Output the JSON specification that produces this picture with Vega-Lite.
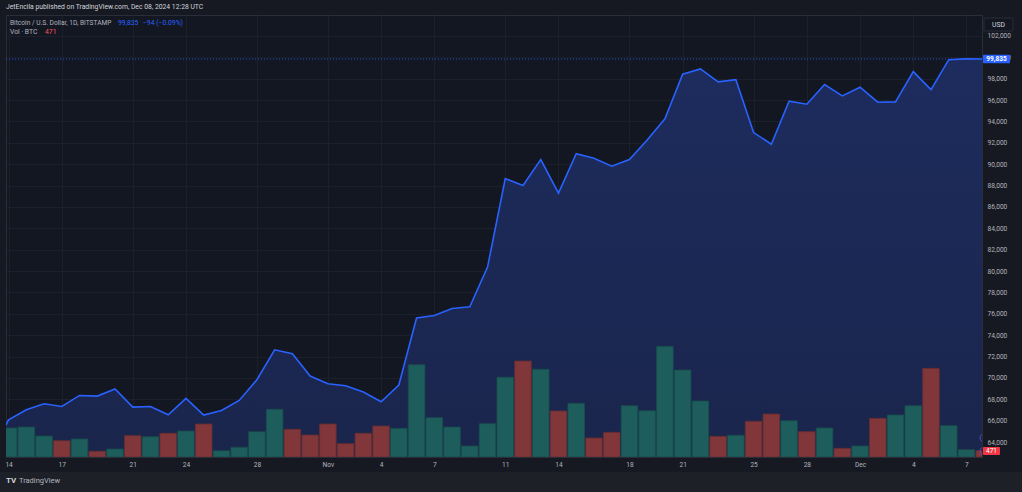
{
  "$schema": "https://vega.github.io/schema/vega-lite/v6.json",
  "autosize": "none",
  "width": 976,
  "height": 442,
  "padding": {"left": 6, "top": 15, "right": 40, "bottom": 35},
  "background": "#161921",
  "title": {
    "text": "JetEncila published on TradingView.com, Dec 08, 2024 12:28 UTC",
    "anchor": "start",
    "frame": "group",
    "font": "Roboto",
    "fontSize": 6.8,
    "fontWeight": "normal",
    "color": "#d1d4dc",
    "offset": 4
  },
  "config": {
    "font": "Roboto",
    "view": {"fill": "#131722", "stroke": "#2a2e39"},
    "axis": {
      "labelFont": "Roboto",
      "labelFontSize": 6.6,
      "labelColor": "#b2b5be",
      "domainColor": "#2a2e39",
      "gridColor": "#1c202c",
      "ticks": false
    },
    "text": {"font": "Roboto"}
  },
  "datasets": {
    "btc": [
      {"date": "2024-10-13", "close": 62850, "volume": null, "dir": null},
      {"date": "2024-10-14", "close": 66080, "volume": 2175, "dir": "up"},
      {"date": "2024-10-15", "close": 67020, "volume": 2250, "dir": "up"},
      {"date": "2024-10-16", "close": 67580, "volume": 1575, "dir": "up"},
      {"date": "2024-10-17", "close": 67330, "volume": 1220, "dir": "down"},
      {"date": "2024-10-18", "close": 68360, "volume": 1350, "dir": "up"},
      {"date": "2024-10-19", "close": 68300, "volume": 430, "dir": "down"},
      {"date": "2024-10-20", "close": 68960, "volume": 600, "dir": "up"},
      {"date": "2024-10-21", "close": 67270, "volume": 1600, "dir": "down"},
      {"date": "2024-10-22", "close": 67330, "volume": 1520, "dir": "up"},
      {"date": "2024-10-23", "close": 66550, "volume": 1780, "dir": "down"},
      {"date": "2024-10-24", "close": 68080, "volume": 1950, "dir": "up"},
      {"date": "2024-10-25", "close": 66520, "volume": 2475, "dir": "down"},
      {"date": "2024-10-26", "close": 66950, "volume": 470, "dir": "up"},
      {"date": "2024-10-27", "close": 67890, "volume": 730, "dir": "up"},
      {"date": "2024-10-28", "close": 69830, "volume": 1900, "dir": "up"},
      {"date": "2024-10-29", "close": 72630, "volume": 3580, "dir": "up"},
      {"date": "2024-10-30", "close": 72260, "volume": 2080, "dir": "down"},
      {"date": "2024-10-31", "close": 70170, "volume": 1650, "dir": "down"},
      {"date": "2024-11-01", "close": 69450, "volume": 2475, "dir": "down"},
      {"date": "2024-11-02", "close": 69260, "volume": 1000, "dir": "down"},
      {"date": "2024-11-03", "close": 68680, "volume": 1780, "dir": "down"},
      {"date": "2024-11-04", "close": 67770, "volume": 2325, "dir": "down"},
      {"date": "2024-11-05", "close": 69330, "volume": 2150, "dir": "up"},
      {"date": "2024-11-06", "close": 75600, "volume": 6920, "dir": "up"},
      {"date": "2024-11-07", "close": 75840, "volume": 2950, "dir": "up"},
      {"date": "2024-11-08", "close": 76490, "volume": 2250, "dir": "up"},
      {"date": "2024-11-09", "close": 76650, "volume": 825, "dir": "up"},
      {"date": "2024-11-10", "close": 80370, "volume": 2500, "dir": "up"},
      {"date": "2024-11-11", "close": 88650, "volume": 5985, "dir": "up"},
      {"date": "2024-11-12", "close": 88000, "volume": 7200, "dir": "down"},
      {"date": "2024-11-13", "close": 90430, "volume": 6580, "dir": "up"},
      {"date": "2024-11-14", "close": 87290, "volume": 3450, "dir": "down"},
      {"date": "2024-11-15", "close": 90990, "volume": 4030, "dir": "up"},
      {"date": "2024-11-16", "close": 90560, "volume": 1425, "dir": "down"},
      {"date": "2024-11-17", "close": 89810, "volume": 1850, "dir": "down"},
      {"date": "2024-11-18", "close": 90430, "volume": 3850, "dir": "up"},
      {"date": "2024-11-19", "close": 92270, "volume": 3470, "dir": "up"},
      {"date": "2024-11-20", "close": 94240, "volume": 8300, "dir": "up"},
      {"date": "2024-11-21", "close": 98420, "volume": 6525, "dir": "up"},
      {"date": "2024-11-22", "close": 98910, "volume": 4200, "dir": "up"},
      {"date": "2024-11-23", "close": 97700, "volume": 1550, "dir": "down"},
      {"date": "2024-11-24", "close": 97910, "volume": 1630, "dir": "up"},
      {"date": "2024-11-25", "close": 92960, "volume": 2680, "dir": "down"},
      {"date": "2024-11-26", "close": 91870, "volume": 3225, "dir": "down"},
      {"date": "2024-11-27", "close": 95890, "volume": 2720, "dir": "up"},
      {"date": "2024-11-28", "close": 95610, "volume": 1900, "dir": "down"},
      {"date": "2024-11-29", "close": 97450, "volume": 2175, "dir": "up"},
      {"date": "2024-11-30", "close": 96390, "volume": 650, "dir": "down"},
      {"date": "2024-12-01", "close": 97200, "volume": 825, "dir": "up"},
      {"date": "2024-12-02", "close": 95800, "volume": 2900, "dir": "down"},
      {"date": "2024-12-03", "close": 95830, "volume": 3150, "dir": "up"},
      {"date": "2024-12-04", "close": 98660, "volume": 3850, "dir": "up"},
      {"date": "2024-12-05", "close": 96980, "volume": 6650, "dir": "down"},
      {"date": "2024-12-06", "close": 99780, "volume": 2350, "dir": "up"},
      {"date": "2024-12-07", "close": 99850, "volume": 550, "dir": "up"},
      {"date": "2024-12-08", "close": 99835, "volume": 471, "dir": "down"}
    ]
  },
  "resolve": {"scale": {"y": "independent"}},
  "layer": [
    {
      "data": {"name": "btc"},
      "mark": {
        "type": "area",
        "clip": true,
        "fill": {
          "gradient": "linear",
          "x1": 0, "y1": 0, "x2": 0, "y2": 1,
          "stops": [
            {"offset": 0, "color": "#1d2c5e"},
            {"offset": 1, "color": "#151a2d"}
          ]
        }
      },
      "encoding": {
        "x": {
          "field": "date",
          "type": "temporal",
          "title": null,
          "scale": {
            "type": "utc",
            "padding": 0,
            "domain": [
              {"year": 2024, "month": 10, "date": 13, "hours": 20, "minutes": 30, "utc": true},
              {"year": 2024, "month": 12, "date": 7, "hours": 21, "utc": true}
            ]
          },
          "axis": {
            "values": [
              {"year": 2024, "month": 10, "date": 14, "utc": true},
              {"year": 2024, "month": 10, "date": 17, "utc": true},
              {"year": 2024, "month": 10, "date": 21, "utc": true},
              {"year": 2024, "month": 10, "date": 24, "utc": true},
              {"year": 2024, "month": 10, "date": 28, "utc": true},
              {"year": 2024, "month": 11, "date": 1, "utc": true},
              {"year": 2024, "month": 11, "date": 4, "utc": true},
              {"year": 2024, "month": 11, "date": 7, "utc": true},
              {"year": 2024, "month": 11, "date": 11, "utc": true},
              {"year": 2024, "month": 11, "date": 14, "utc": true},
              {"year": 2024, "month": 11, "date": 18, "utc": true},
              {"year": 2024, "month": 11, "date": 21, "utc": true},
              {"year": 2024, "month": 11, "date": 25, "utc": true},
              {"year": 2024, "month": 11, "date": 28, "utc": true},
              {"year": 2024, "month": 12, "date": 1, "utc": true},
              {"year": 2024, "month": 12, "date": 4, "utc": true},
              {"year": 2024, "month": 12, "date": 7, "utc": true}
            ],
            "labelExpr": "utcdate(datum.value) == 1 ? utcFormat(datum.value, '%b') : utcFormat(datum.value, '%-d')",
            "labelFlush": false,
            "labelOverlap": false,
            "labelPadding": 4,
            "grid": true
          }
        },
        "y": {
          "field": "close",
          "type": "quantitative",
          "title": null,
          "scale": {"domain": [62600, 103960], "zero": false, "nice": false},
          "axis": {
            "orient": "right",
            "values": [64000, 66000, 68000, 70000, 72000, 74000, 76000, 78000, 80000, 82000, 84000, 86000, 88000, 90000, 92000, 94000, 96000, 98000, 100000, 102000],
            "labelExpr": "format(datum.value, ',')",
            "labelPadding": 5,
            "grid": true
          }
        }
      }
    },
    {
      "data": {"name": "btc"},
      "mark": {"type": "bar", "width": 16.6, "strokeWidth": 0.8, "clip": true},
      "encoding": {
        "x": {"field": "date", "type": "temporal", "title": null, "scale": {"type": "utc", "padding": 0}},
        "y": {"field": "volume", "type": "quantitative", "scale": {"domain": [0, 33150]}, "axis": null},
        "color": {
          "field": "dir",
          "type": "nominal",
          "scale": {"domain": ["up", "down"], "range": ["#1d5e5c", "#813639"]},
          "legend": null
        },
        "stroke": {
          "field": "dir",
          "type": "nominal",
          "scale": {"domain": ["up", "down"], "range": ["#184d4c", "#662d31"]},
          "legend": null
        }
      }
    },
    {
      "layer": [
        {
          "data": {"values": [{}]},
          "mark": {"type": "rect", "color": "#1e2027", "clip": false},
          "encoding": {
            "x": {"datum": {"year": 2024, "month": 10, "date": 12, "utc": true}, "type": "temporal", "title": null, "scale": {"type": "utc"}},
            "x2": {"datum": {"year": 2024, "month": 12, "date": 12, "utc": true}},
            "y": {"datum": 61200, "type": "quantitative", "scale": {"domain": [62600, 103960], "zero": false, "nice": false}, "axis": null},
            "y2": {"datum": 58000}
          }
        },
        {
          "data": {"values": [{}]},
          "mark": {"type": "rule", "color": "#2962ff", "strokeDash": [1, 2], "strokeWidth": 1, "opacity": 0.8},
          "encoding": {
            "y": {"datum": 99835, "type": "quantitative", "axis": null}
          }
        },
        {
          "data": {"name": "btc"},
          "mark": {"type": "line", "color": "#2962ff", "strokeWidth": 1.6, "clip": true},
          "encoding": {
            "x": {"field": "date", "type": "temporal", "title": null, "scale": {"type": "utc"}},
            "y": {"field": "close", "type": "quantitative", "axis": null}
          }
        },
        {
          "data": {"values": [{}]},
          "mark": {"type": "point", "shape": "circle", "filled": false, "color": "#6c5ce7", "size": 70, "strokeWidth": 1, "clip": true},
          "encoding": {
            "x": {"datum": {"year": 2024, "month": 12, "date": 8, "utc": true}, "type": "temporal", "title": null, "scale": {"type": "utc"}},
            "y": {"datum": 64380, "type": "quantitative", "axis": null}
          }
        },
        {
          "data": {"values": [{}]},
          "mark": {"type": "point", "shape": "circle", "filled": false, "color": "#6c5ce7", "size": 70, "strokeWidth": 1, "clip": true},
          "encoding": {
            "x": {"datum": {"year": 2024, "month": 12, "date": 8, "utc": true}, "type": "temporal", "title": null, "scale": {"type": "utc"}},
            "y": {"datum": 63163, "type": "quantitative", "axis": null}
          }
        },
        {
          "data": {"values": [{}]},
          "mark": {"type": "rect", "fill": "#131722", "stroke": "#2a2e39", "strokeWidth": 1, "cornerRadius": 1, "clip": false},
          "encoding": {
            "x": {"datum": {"year": 2024, "month": 12, "date": 7, "hours": 23, "minutes": 42, "utc": true}, "type": "temporal", "title": null, "scale": {"type": "utc"}},
            "x2": {"datum": {"year": 2024, "month": 12, "date": 9, "hours": 14, "minutes": 56, "utc": true}},
            "y": {"datum": 103679, "type": "quantitative", "axis": null},
            "y2": {"datum": 102463}
          }
        },
        {
          "data": {"values": [{}]},
          "mark": {"type": "text", "text": "USD", "color": "#d1d4dc", "fontSize": 6.8, "align": "center", "baseline": "middle", "clip": false},
          "encoding": {
            "x": {"datum": {"year": 2024, "month": 12, "date": 8, "hours": 19, "minutes": 20, "utc": true}, "type": "temporal", "title": null, "scale": {"type": "utc"}},
            "y": {"datum": 103071, "type": "quantitative", "axis": null}
          }
        },
        {
          "data": {"values": [{}]},
          "mark": {"type": "rect", "color": "#2962ff", "cornerRadius": 1, "clip": false},
          "encoding": {
            "x": {"datum": {"year": 2024, "month": 12, "date": 7, "hours": 22, "minutes": 20, "utc": true}, "type": "temporal", "title": null, "scale": {"type": "utc"}},
            "x2": {"datum": {"year": 2024, "month": 12, "date": 9, "hours": 11, "utc": true}},
            "y": {"datum": 100233, "type": "quantitative", "axis": null},
            "y2": {"datum": 99437}
          }
        },
        {
          "data": {"values": [{}]},
          "mark": {"type": "text", "text": "99,835", "color": "#ffffff", "fontSize": 6.5, "fontWeight": "bold", "align": "center", "baseline": "middle", "clip": false},
          "encoding": {
            "x": {"datum": {"year": 2024, "month": 12, "date": 8, "hours": 16, "minutes": 36, "utc": true}, "type": "temporal", "title": null, "scale": {"type": "utc"}},
            "y": {"datum": 99835, "type": "quantitative", "axis": null}
          }
        },
        {
          "data": {"values": [{}]},
          "mark": {"type": "rect", "color": "#f23645", "cornerRadius": 1, "clip": false},
          "encoding": {
            "x": {"datum": {"year": 2024, "month": 12, "date": 7, "hours": 22, "minutes": 20, "utc": true}, "type": "temporal", "title": null, "scale": {"type": "utc"}},
            "x2": {"datum": {"year": 2024, "month": 12, "date": 8, "hours": 21, "minutes": 20, "utc": true}},
            "y": {"datum": 63538, "type": "quantitative", "axis": null},
            "y2": {"datum": 62789}
          }
        },
        {
          "data": {"values": [{}]},
          "mark": {"type": "text", "text": "471", "color": "#ffffff", "fontSize": 6.5, "align": "center", "baseline": "middle", "clip": false},
          "encoding": {
            "x": {"datum": {"year": 2024, "month": 12, "date": 8, "hours": 9, "minutes": 50, "utc": true}, "type": "temporal", "title": null, "scale": {"type": "utc"}},
            "y": {"datum": 63163, "type": "quantitative", "axis": null}
          }
        },
        {
          "data": {"values": [{}]},
          "mark": {"type": "text", "text": "Bitcoin / U.S. Dollar, 1D, BITSTAMP", "color": "#b2b5be", "fontSize": 6.6, "align": "left", "baseline": "middle", "clip": false},
          "encoding": {
            "x": {"datum": {"year": 2024, "month": 10, "date": 14, "hours": 1, "minutes": 54, "utc": true}, "type": "temporal", "title": null, "scale": {"type": "utc"}},
            "y": {"datum": 103165, "type": "quantitative", "axis": null}
          }
        },
        {
          "data": {"values": [{}]},
          "mark": {"type": "text", "text": "99,835", "color": "#2962ff", "fontSize": 6.8, "align": "left", "baseline": "middle", "clip": false},
          "encoding": {
            "x": {"datum": {"year": 2024, "month": 10, "date": 20, "hours": 4, "utc": true}, "type": "temporal", "title": null, "scale": {"type": "utc"}},
            "y": {"datum": 103165, "type": "quantitative", "axis": null}
          }
        },
        {
          "data": {"values": [{}]},
          "mark": {"type": "text", "text": "−94 (−0.09%)", "color": "#2962ff", "fontSize": 6.8, "align": "left", "baseline": "middle", "clip": false},
          "encoding": {
            "x": {"datum": {"year": 2024, "month": 10, "date": 21, "hours": 13, "minutes": 48, "utc": true}, "type": "temporal", "title": null, "scale": {"type": "utc"}},
            "y": {"datum": 103165, "type": "quantitative", "axis": null}
          }
        },
        {
          "data": {"values": [{}]},
          "mark": {"type": "text", "text": "Vol · BTC", "color": "#b2b5be", "fontSize": 6.8, "align": "left", "baseline": "middle", "clip": false},
          "encoding": {
            "x": {"datum": {"year": 2024, "month": 10, "date": 14, "hours": 1, "minutes": 54, "utc": true}, "type": "temporal", "title": null, "scale": {"type": "utc"}},
            "y": {"datum": 102323, "type": "quantitative", "axis": null}
          }
        },
        {
          "data": {"values": [{}]},
          "mark": {"type": "text", "text": "471", "color": "#f7525f", "fontSize": 6.8, "align": "left", "baseline": "middle", "clip": false},
          "encoding": {
            "x": {"datum": {"year": 2024, "month": 10, "date": 16, "hours": 1, "minutes": 18, "utc": true}, "type": "temporal", "title": null, "scale": {"type": "utc"}},
            "y": {"datum": 102323, "type": "quantitative", "axis": null}
          }
        },
        {
          "data": {"values": [{}]},
          "mark": {"type": "text", "text": "TV", "color": "#d1d4dc", "fontSize": 8, "fontWeight": "bold", "align": "left", "baseline": "middle", "clip": false},
          "encoding": {
            "x": {"datum": {"year": 2024, "month": 10, "date": 13, "hours": 20, "minutes": 30, "utc": true}, "type": "temporal", "title": null, "scale": {"type": "utc"}},
            "y": {"datum": 60309, "type": "quantitative", "axis": null}
          }
        },
        {
          "data": {"values": [{}]},
          "mark": {"type": "text", "text": "TradingView", "color": "#b2b5be", "fontSize": 7.5, "align": "left", "baseline": "middle", "clip": false},
          "encoding": {
            "x": {"datum": {"year": 2024, "month": 10, "date": 14, "hours": 14, "utc": true}, "type": "temporal", "title": null, "scale": {"type": "utc"}},
            "y": {"datum": 60309, "type": "quantitative", "axis": null}
          }
        }
      ]
    }
  ]
}
